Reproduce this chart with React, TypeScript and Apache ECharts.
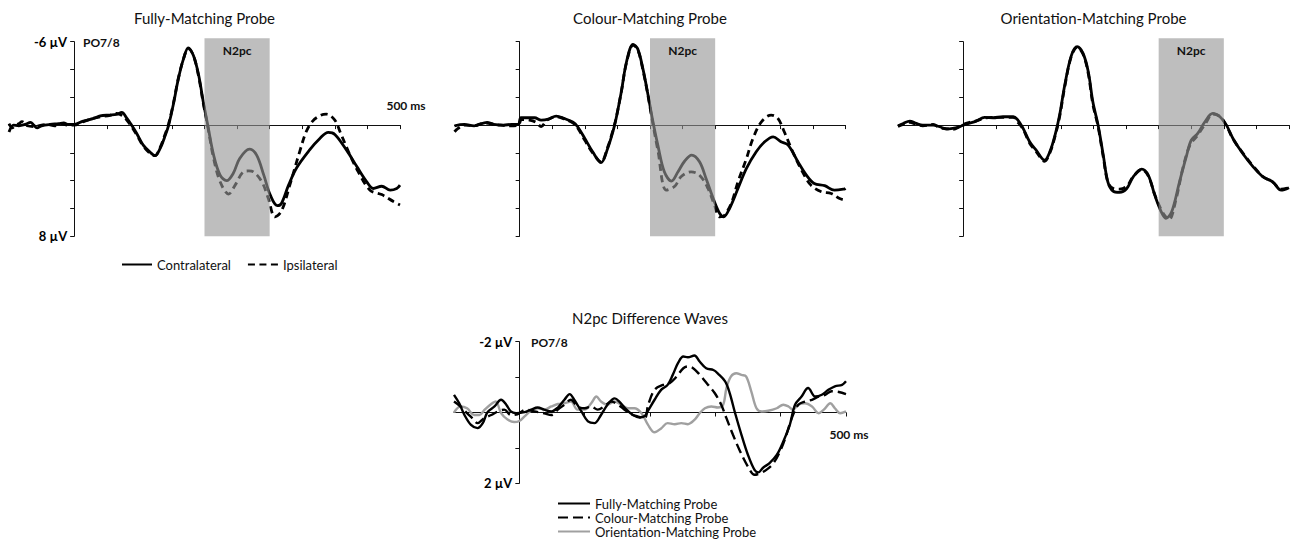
import React, { useEffect, useRef } from 'react';
import * as echarts from 'echarts';

// ---------- DATA ----------
const panelTitles = ['Fully-Matching Probe', 'Colour-Matching Probe', 'Orientation-Matching Probe', 'N2pc Difference Waves'];
const topLegendNames = ['Contralateral', 'Ipsilateral'];
const diffLegendNames = ['Fully-Matching Probe', 'Colour-Matching Probe', 'Orientation-Matching Probe'];
const n2pcWindows = [[200, 300], [200, 300], [300, 400]];
const n2pcBoxRange = [-6.25, 8]; // µV extent of the shaded window
const topYRange = [-6, 8];
const diffYRange = [-2, 2];
const timeRange = [-100, 500];
const topXTicks = [0, 50, 100, 150, 200, 250, 300, 350, 400, 450, 500];
const diffXTicks = [0, 100, 200, 300, 400, 500];

const fullyContra = [[-100,0.5],[-93,0.0],[-85,0.05],[-75,-0.05],[-67,-0.2],[-62,0.0],[-57,0.2],[-50,0.05],[-37,-0.05],[-24,-0.1],[-16,-0.15],[-9,-0.05],[0,-0.05],[14,-0.29],[30,-0.48],[40,-0.67],[55,-0.72],[65,-0.77],[73,-0.91],[81,-0.48],[88,0],[96,0.6],[106,1.44],[117,1.97],[124,2.2],[132,1.68],[140,0.72],[145,0],[152,-1.44],[160,-3.36],[168,-4.8],[175,-5.56],[183,-5.0],[191,-3.6],[198,-1.7],[205,0],[214,2.16],[224,3.6],[234,4.0],[244,3.48],[254,2.4],[269,1.73],[280,2.16],[291,3.6],[301,5.04],[312,5.8],[318,5.64],[329,4.32],[341,3.1],[361,1.8],[377,0.96],[390,0.53],[400,0.67],[418,1.8],[434,3.0],[449,4.08],[459,4.56],[472,4.4],[485,4.68],[495,4.56],[500,4.32]];
const fullyIpsi = [[-100,-0.1],[-95,0.2],[-90,0.0],[-85,-0.1],[-80,-0.25],[-72,0.05],[-62,0.1],[-50,0.0],[-40,-0.05],[-30,0.05],[-20,-0.1],[-10,0.0],[0,0.0],[14,-0.25],[30,-0.5],[40,-0.6],[55,-0.7],[65,-0.85],[73,-0.7],[81,-0.35],[88,0.1],[96,0.7],[106,1.5],[117,2.05],[124,2.2],[132,1.6],[140,0.6],[145,-0.1],[152,-1.5],[160,-3.4],[168,-4.8],[175,-5.5],[183,-5.0],[191,-3.5],[198,-1.6],[205,0.1],[214,2.4],[224,4.08],[237,4.96],[247,4.32],[260,3.36],[268,3.3],[275,3.36],[288,4.08],[298,5.28],[308,6.6],[318,6.2],[331,4.3],[346,1.92],[356,0.48],[366,-0.29],[378,-0.7],[387,-0.79],[400,-0.36],[408,0.48],[421,1.92],[436,3.36],[454,4.68],[472,5.0],[490,5.5],[500,5.75]];

const colourContra = [[-100,0.05],[-85,-0.05],[-70,0.05],[-50,-0.2],[-40,-0.05],[-25,0.0],[-12,-0.05],[-2,-0.05],[2,-0.53],[23,-0.53],[33,-0.36],[44,-0.43],[56,-0.65],[68,-0.48],[82,-0.2],[89,0.12],[100,0.96],[112,1.92],[125,2.7],[135,1.68],[143,0.48],[148,-0.48],[156,-2.4],[164,-4.56],[174,-5.8],[181,-5.5],[189,-4.08],[197,-2.16],[204,-0.36],[212,1.44],[222,3.36],[233,4.03],[243,3.36],[253,2.6],[264,2.16],[276,2.64],[286,3.84],[297,5.28],[307,6.36],[313,6.6],[322,6.0],[335,4.56],[348,3.12],[363,1.92],[376,1.2],[389,0.84],[401,1.2],[412,1.44],[427,2.64],[440,3.6],[452,4.2],[468,4.36],[483,4.68],[498,4.6],[500,4.55]];
const colourIpsi = [[-100,0.48],[-95,0.25],[-85,0.0],[-70,0.05],[-55,-0.15],[-45,-0.1],[-30,0.0],[-15,0.05],[-2,0.0],[3,-0.4],[15,-0.36],[25,-0.2],[33,0.1],[42,-0.36],[56,-0.6],[68,-0.45],[82,-0.15],[89,0.2],[100,1.1],[112,2.0],[125,2.65],[135,1.6],[143,0.4],[148,-0.5],[156,-2.4],[164,-4.5],[174,-5.75],[181,-5.45],[189,-4.0],[197,-2.1],[204,-0.2],[212,1.8],[225,4.68],[238,4.4],[248,3.7],[263,3.36],[276,3.6],[289,4.56],[299,5.76],[307,6.6],[314,6.5],[325,5.6],[335,4.08],[348,2.4],[358,0.96],[371,-0.24],[386,-0.72],[396,-0.5],[406,0.48],[419,1.92],[434,3.36],[447,4.32],[463,4.8],[478,4.92],[491,5.28],[500,5.4]];

const orientContra = [[-100,0.05],[-92,-0.12],[-82,-0.29],[-72,-0.12],[-62,0.0],[-46,0.0],[-36,0.12],[-26,0.29],[-16,0.24],[-5,0.12],[0,0.0],[10,-0.14],[20,-0.29],[33,-0.55],[46,-0.53],[61,-0.6],[77,-0.6],[84,-0.36],[92,0.24],[102,1.2],[112,1.8],[125,2.52],[133,1.92],[141,0.72],[148,-0.72],[156,-2.9],[166,-5.0],[175,-5.64],[184,-5.16],[192,-3.84],[199,-1.68],[207,0],[215,2.16],[222,4.08],[230,4.75],[240,4.84],[251,4.56],[261,3.72],[274,3.17],[284,3.6],[294,5.04],[304,6.24],[311,6.7],[320,6.24],[332,4.08],[343,2.16],[350,1.08],[360,0.6],[371,-0.24],[383,-0.84],[394,-0.6],[404,0],[414,0.96],[429,2.04],[445,3.0],[460,3.72],[475,4.08],[488,4.68],[500,4.5]];
const orientIpsi = [[-100,0.1],[-92,-0.05],[-82,-0.2],[-72,-0.05],[-62,0.05],[-46,-0.05],[-36,0.2],[-26,0.25],[-16,0.3],[-5,0.1],[0,-0.05],[10,-0.2],[20,-0.3],[33,-0.5],[46,-0.55],[61,-0.55],[77,-0.55],[84,-0.2],[92,0.3],[102,1.3],[112,1.9],[125,2.6],[133,2.0],[141,0.8],[148,-0.6],[156,-2.8],[166,-4.95],[175,-5.6],[184,-5.1],[192,-3.7],[199,-1.5],[207,0.1],[215,2.3],[222,4.1],[230,4.55],[240,4.6],[251,4.4],[261,3.7],[274,3.2],[284,3.65],[294,5.0],[304,6.1],[311,6.6],[316,6.8],[327,5.28],[337,3.12],[348,1.44],[360,0.72],[373,-0.2],[383,-0.8],[394,-0.62],[404,0.05],[414,1.0],[429,2.0],[445,2.95],[460,3.7],[475,4.1],[488,4.6],[500,4.5]];

const diffFully = [[-100,-0.5],[-92,-0.26],[-84,0.07],[-74,0.35],[-64,0.44],[-56,0.3],[-49,0.0],[-38,-0.17],[-28,-0.36],[-20,-0.22],[-13,-0.03],[-5,0.02],[8,-0.01],[18,-0.08],[28,-0.14],[38,-0.08],[49,-0.03],[59,-0.14],[69,-0.36],[77,-0.52],[84,-0.36],[95,-0.03],[105,0.25],[115,0.3],[125,0.07],[135,-0.22],[146,-0.4],[153,-0.31],[164,-0.08],[174,0.07],[184,0.14],[192,0.1],[197,-0.05],[207,-0.36],[217,-0.64],[227,-0.78],[235,-1.07],[243,-1.4],[251,-1.58],[258,-1.56],[268,-1.61],[276,-1.44],[286,-1.25],[297,-1.2],[304,-1.1],[315,-0.88],[322,-0.55],[330,0],[340,0.63],[350,1.2],[360,1.62],[366,1.69],[373,1.56],[383,1.43],[394,1.2],[404,0.82],[414,0.35],[422,-0.22],[432,-0.45],[442,-0.69],[453,-0.45],[463,-0.5],[473,-0.64],[483,-0.74],[494,-0.78],[500,-0.88]];
const diffColour = [[-100,-0.31],[-90,-0.17],[-80,0.02],[-72,0.16],[-64,0.3],[-54,0.16],[-43,0.07],[-33,-0.03],[-23,-0.08],[-13,0.07],[-3,0.05],[10,-0.08],[23,-0.03],[38,0.02],[49,0.07],[59,-0.08],[69,-0.22],[79,-0.36],[89,-0.17],[100,-0.12],[110,-0.17],[120,-0.08],[130,-0.17],[141,-0.31],[151,-0.22],[161,-0.08],[171,0.05],[181,0.11],[192,0.16],[197,-0.2],[207,-0.64],[220,-0.78],[230,-0.83],[240,-1.0],[251,-1.25],[258,-1.3],[266,-1.25],[276,-1.07],[289,-0.78],[299,-0.55],[309,-0.22],[317,0.16],[327,0.63],[338,1.1],[350,1.53],[360,1.76],[368,1.72],[378,1.62],[389,1.43],[399,1.1],[407,0.73],[417,0.16],[427,-0.22],[437,-0.31],[448,-0.36],[458,-0.45],[468,-0.5],[478,-0.6],[489,-0.58],[500,-0.52]];
const diffOrient = [[-100,0.0],[-90,-0.17],[-80,-0.12],[-69,0.07],[-61,0.07],[-53,-0.08],[-43,-0.24],[-36,-0.31],[-28,0.02],[-18,0.2],[-8,0.27],[0,0.24],[8,0.11],[18,-0.05],[28,-0.12],[38,-0.08],[49,-0.17],[59,-0.24],[69,-0.26],[79,-0.31],[89,-0.08],[100,-0.08],[110,-0.26],[118,-0.45],[125,-0.31],[135,-0.22],[146,-0.31],[156,-0.22],[166,-0.12],[176,-0.12],[187,0.02],[197,0.35],[207,0.56],[217,0.45],[227,0.3],[238,0.33],[248,0.3],[258,0.33],[268,0.21],[276,0.02],[284,-0.12],[294,-0.17],[304,-0.14],[312,-0.22],[317,-0.69],[324,-1.02],[332,-1.11],[340,-1.06],[347,-1.02],[355,-0.6],[363,-0.12],[371,-0.03],[381,-0.05],[394,-0.12],[404,-0.22],[412,-0.17],[419,-0.08],[427,-0.22],[437,-0.26],[448,-0.17],[458,0.02],[466,-0.08],[476,-0.26],[483,-0.12],[491,0.02],[500,-0.03]];

// ---------- STYLE ----------
const FONT = 'Lato, "Open Sans", sans-serif';
const AXIS_COLOR = '#111';
const BOX_FILL = 'rgba(150,150,150,0.62)';

const grids = [
  { left: 9, top: 41.7, width: 391, height: 194.6 },
  { left: 454.5, top: 41.7, width: 391, height: 194.6 },
  { left: 898, top: 41.7, width: 391, height: 194.6 },
  { left: 454, top: 341.7, width: 392, height: 141.6 },
];

function buildOption() {
  const xAxis: any[] = grids.map((_, i) => ({
    type: 'value',
    gridIndex: i,
    min: timeRange[0],
    max: timeRange[1],
    interval: i === 3 ? 100 : 50,
    axisLine: { show: true, onZero: true, lineStyle: { color: AXIS_COLOR, width: 1 } },
    axisTick: { show: true, length: 4, customValues: i === 3 ? diffXTicks : topXTicks, lineStyle: { color: AXIS_COLOR, width: 1 } },
    axisLabel: { show: false },
    splitLine: { show: false },
  }));

  const yAxis: any[] = grids.map((g, i) => {
    const range = i === 3 ? diffYRange : topYRange;
    const showLabels = i === 0 || i === 3;
    // place the y axis at t = 0 ms by shifting it inside the grid
    const zeroOffset = (g.width * (0 - timeRange[0])) / (timeRange[1] - timeRange[0]);
    return {
      type: 'value',
      gridIndex: i,
      inverse: true,
      min: range[0],
      max: range[1],
      interval: i === 3 ? 1 : 2,
      position: 'left',
      offset: -zeroOffset,
      axisLine: { show: true, onZero: false, lineStyle: { color: AXIS_COLOR, width: 1 } },
      axisTick: { show: true, length: 4, lineStyle: { color: AXIS_COLOR, width: 1 } },
      axisLabel: {
        show: showLabels,
        margin: 7,
        fontFamily: FONT,
        fontSize: 13,
        fontWeight: 'bold',
        color: '#000',
        formatter: (v: number) => (v === range[0] || v === range[1] ? `${v} µV` : ''),
      },
      splitLine: { show: false },
    };
  });

  const topSets = [
    [fullyContra, fullyIpsi],
    [colourContra, colourIpsi],
    [orientContra, orientIpsi],
  ];

  const series: any[] = [];
  topSets.forEach((pair, i) => {
    series.push({
      type: 'line', name: topLegendNames[0], xAxisIndex: i, yAxisIndex: i,
      data: pair[0], symbol: 'none', showSymbol: false, smooth: 0.35,
      lineStyle: { color: '#000', width: 2.8 }, itemStyle: { color: '#000' }, z: 3,
    });
    series.push({
      type: 'line', name: topLegendNames[1], xAxisIndex: i, yAxisIndex: i,
      data: pair[1], symbol: 'none', showSymbol: false, smooth: 0.35,
      lineStyle: { color: '#000', width: 2.8, type: [7, 4.5] }, itemStyle: { color: '#000' }, z: 3,
    });
    series.push({
      type: 'custom', xAxisIndex: i, yAxisIndex: i, silent: true, z: 6,
      data: [[n2pcWindows[i][0], n2pcWindows[i][1], n2pcBoxRange[0], n2pcBoxRange[1]]],
      encode: { x: [0, 1], y: [2, 3] },
      renderItem: (params: any, api: any) => {
        const p1 = api.coord([api.value(0), api.value(2)]);
        const p2 = api.coord([api.value(1), api.value(3)]);
        return {
          type: 'group',
          children: [
            { type: 'rect', shape: { x: p1[0], y: p1[1], width: p2[0] - p1[0], height: p2[1] - p1[1] }, style: { fill: BOX_FILL } },
            {
              type: 'text', x: (p1[0] + p2[0]) / 2, y: p1[1] + 12,
              style: { text: 'N2pc', fontFamily: FONT, fontSize: 12, fontWeight: 'bold', fill: '#111', align: 'center', verticalAlign: 'middle', textAlign: 'center', textVerticalAlign: 'middle' },
            },
          ],
        };
      },
    });
  });

  series.push({
    type: 'line', name: diffLegendNames[2], xAxisIndex: 3, yAxisIndex: 3,
    data: diffOrient, symbol: 'none', showSymbol: false, smooth: 0.35,
    lineStyle: { color: '#a0a0a0', width: 2.4 }, itemStyle: { color: '#a0a0a0' }, z: 2,
  });
  series.push({
    type: 'line', name: diffLegendNames[1], xAxisIndex: 3, yAxisIndex: 3,
    data: diffColour, symbol: 'none', showSymbol: false, smooth: 0.35,
    lineStyle: { color: '#000', width: 2.4, type: [10, 5] }, itemStyle: { color: '#000' }, z: 3,
  });
  series.push({
    type: 'line', name: diffLegendNames[0], xAxisIndex: 3, yAxisIndex: 3,
    data: diffFully, symbol: 'none', showSymbol: false, smooth: 0.35,
    lineStyle: { color: '#000', width: 2.4 }, itemStyle: { color: '#000' }, z: 4,
  });

  const titleCenters = grids.map((g) => g.left + g.width / 2);
  const titleYs = [18, 18, 18, 318];

  const textStyleBase = { fontFamily: FONT, fill: '#111' };
  const graphic: any[] = [];
  panelTitles.forEach((t, i) => {
    graphic.push({
      type: 'text', x: titleCenters[i], y: titleYs[i],
      style: { ...textStyleBase, text: t, fontSize: 15, align: 'center', verticalAlign: 'middle', textAlign: 'center', textVerticalAlign: 'middle' },
    });
  });
  const smallBold = { ...textStyleBase, fontSize: 12, fontWeight: 'bold', verticalAlign: 'middle', textVerticalAlign: 'middle' };
  graphic.push({ type: 'text', x: 83, y: 42, style: { ...smallBold, text: 'PO7/8' } });
  graphic.push({ type: 'text', x: 531, y: 342, style: { ...smallBold, text: 'PO7/8' } });
  graphic.push({ type: 'text', x: 406, y: 105, style: { ...smallBold, text: '500 ms', align: 'center', textAlign: 'center' } });
  graphic.push({ type: 'text', x: 849, y: 434, style: { ...smallBold, text: '500 ms', align: 'center', textAlign: 'center' } });

  const legendText = { fontFamily: FONT, fontSize: 13, color: '#111' };
  return {
    animation: false,
    backgroundColor: '#fff',
    grid: grids.map((g) => ({ ...g, containLabel: false, outerBoundsMode: 'none' })),
    xAxis,
    yAxis,
    legend: [
      {
        data: topLegendNames, left: 121, top: 258, padding: 0, itemWidth: 30, itemHeight: 12, itemGap: 16,
        itemStyle: { opacity: 0 },
        textStyle: legendText, selectedMode: false,
      },
      {
        data: diffLegendNames, orient: 'vertical', left: 557, top: 497, padding: 0, itemWidth: 32, itemHeight: 14, itemGap: 1,
        itemStyle: { opacity: 0 },
        textStyle: legendText, selectedMode: false,
      },
    ],
    series,
    graphic,
  };
}

export default function App() {
  const ref = useRef<HTMLDivElement>(null);
  useEffect(() => {
    if (!ref.current) return;
    const chart = echarts.init(ref.current, null, { renderer: 'svg' });
    chart.setOption(buildOption() as any);
    return () => chart.dispose();
  }, []);
  return <div ref={ref} style={{ position: 'absolute', left: 0, top: 0, width: 1291, height: 543 }} />;
}
